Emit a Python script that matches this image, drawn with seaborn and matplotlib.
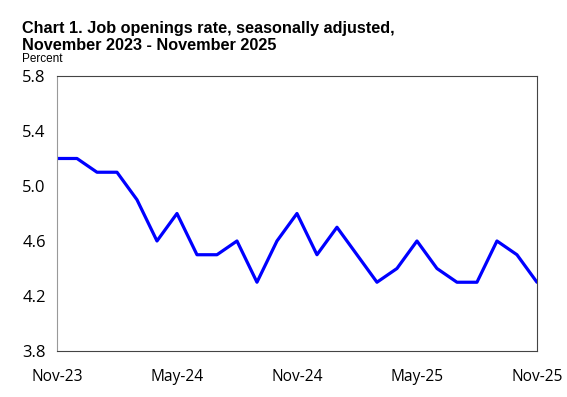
import matplotlib
matplotlib.use("Agg")
import matplotlib.pyplot as plt
import seaborn as sns
import pandas as pd

months = ["Nov-23", "Dec-23", "Jan-24", "Feb-24", "Mar-24", "Apr-24", "May-24", "Jun-24",
          "Jul-24", "Aug-24", "Sep-24", "Oct-24", "Nov-24", "Dec-24", "Jan-25", "Feb-25",
          "Mar-25", "Apr-25", "May-25", "Jun-25", "Jul-25", "Aug-25", "Sep-25", "Oct-25", "Nov-25"]
rates = [5.2, 5.2, 5.1, 5.1, 4.9, 4.6, 4.8, 4.5, 4.5, 4.6, 4.3, 4.6, 4.8, 4.5, 4.7, 4.5,
         4.3, 4.4, 4.6, 4.4, 4.3, 4.3, 4.6, 4.5, 4.3]
y_ticks = [3.8, 4.2, 4.6, 5.0, 5.4, 5.8]
x_label_months = ["Nov-23", "May-24", "Nov-24", "May-25", "Nov-25"]

sns.set_theme(style="white")
plt.rcParams['font.family'] = ['Liberation Sans', 'DejaVu Sans']
plt.rcParams['text.color'] = 'black'
plt.rcParams['xtick.color'] = 'black'
plt.rcParams['ytick.color'] = 'black'

df = pd.DataFrame({"idx": range(len(months)), "month": months, "rate": rates})

fig = plt.figure(figsize=(5.67, 3.97), dpi=100)
ax = fig.add_axes([0.1005, 0.1159, 0.8465, 0.6927])
sns.lineplot(data=df, x="idx", y="rate", ax=ax, color="#0000FF", linewidth=2.3)

ax.set_xlim(0, len(months) - 1)
ax.set_ylim(y_ticks[0], y_ticks[-1])
ax.set_yticks(y_ticks)
ax.set_yticklabels([f"{v:.1f}" for v in y_ticks], fontsize=12, family=['Open Sans', 'DejaVu Sans'])
ax.set_xticks(range(len(months)))
ax.set_xticklabels([m if m in x_label_months else "" for m in months], fontsize=11.2,
                   family=['Open Sans', 'DejaVu Sans'])
ax.tick_params(axis='x', direction='in', length=4, width=0.8, color='#444444', pad=13)
ax.tick_params(axis='y', direction='out', length=4, width=0.8, color='#888888', pad=4)
ax.set_xlabel("")
ax.set_ylabel("")
ax.spines['left'].set_color('#999999')
for s in ['bottom', 'top', 'right']:
    ax.spines[s].set_color('#444444')
for s in ax.spines.values():
    s.set_linewidth(0.8)

fig.text(0.039, 0.946, "Chart 1. Job openings rate, seasonally adjusted,\nNovember 2023 - November 2025",
         fontsize=11.7, fontweight='bold', va='top', ha='left', linespacing=1.15)
fig.text(0.039, 0.836, "Percent", fontsize=8.5, va='bottom', ha='left')

fig.savefig("out.png", dpi=100)
